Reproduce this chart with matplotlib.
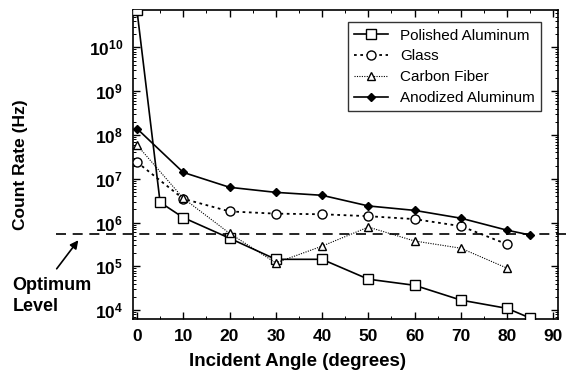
import matplotlib
matplotlib.use("Agg")
import matplotlib.pyplot as plt
from matplotlib.ticker import LogLocator, MultipleLocator, FixedLocator

plt.rcParams['font.family'] = ['Liberation Sans', 'DejaVu Sans']

angle_pa = [0, 5, 10, 20, 30, 40, 50, 60, 70, 80, 85]
polished_al = [7e10, 2.9e6, 1.3e6, 4.4e5, 1.45e5, 1.45e5, 5.1e4, 3.7e4, 1.7e4, 1.1e4, 6.6e3]

angle_gl = [0, 10, 20, 30, 40, 50, 60, 70, 80]
glass = [2.4e7, 3.5e6, 1.8e6, 1.6e6, 1.55e6, 1.4e6, 1.2e6, 8.3e5, 3.2e5]

angle_cf = [0, 10, 20, 30, 40, 50, 60, 70, 80]
carbon_fiber = [5.9e7, 3.6e6, 5.7e5, 1.2e5, 2.9e5, 7.9e5, 3.8e5, 2.6e5, 9.1e4]

angle_an = [0, 10, 20, 30, 40, 50, 60, 70, 80, 85]
anodized_al = [1.4e8, 1.4e7, 6.4e6, 4.9e6, 4.2e6, 2.4e6, 1.9e6, 1.26e6, 6.7e5, 5.2e5]

optimum_level = 5.4e5

fig = plt.figure(figsize=(5.7, 3.77), dpi=100)
ax = fig.add_axes([0.233, 0.154, 0.746, 0.819])

ax.plot(angle_pa, polished_al, '-', color='k', lw=1.2, marker='s', ms=6.5,
        mfc='white', mec='k', mew=1.0, label='Polished Aluminum', zorder=3)
ax.plot(angle_gl, glass, linestyle=(0, (1.5, 2)), color='k', lw=1.3, marker='o', ms=6.5,
        mfc='white', mec='k', mew=1.0, label='Glass', zorder=3)
ax.plot(angle_cf, carbon_fiber, linestyle=(0, (1, 1.2)), color='k', lw=0.8, marker='^', ms=5.5,
        mfc='white', mec='k', mew=1.0, label='Carbon Fiber', zorder=3)
ax.plot(angle_an, anodized_al, '-', color='k', lw=1.2, marker='D', ms=4.5,
        mfc='k', mec='k', label='Anodized Aluminum', zorder=3)

# optimum level line runs past the axes on both sides
ax.plot([-17.5, 93], [optimum_level, optimum_level], '--', color='k', lw=1.2,
        dashes=(6, 4), clip_on=False, zorder=2)

ax.set_yscale('log')
ax.set_xlim(-0.9, 91)
ax.set_ylim(10**3.8, 10**10.85)

ax.xaxis.set_major_locator(MultipleLocator(10))
ax.xaxis.set_minor_locator(MultipleLocator(5))
ax.yaxis.set_major_locator(FixedLocator([1e4, 1e5, 1e6, 1e7, 1e8, 1e9, 1e10]))
ax.yaxis.set_minor_locator(LogLocator(base=10, subs=range(2, 10), numticks=20))

ax.tick_params(which='both', direction='in', top=True, right=True)
ax.tick_params(which='major', length=5, width=1)
ax.tick_params(which='minor', length=2.5, width=0.7)
ax.tick_params(axis='both', labelsize=12.5)
ax.tick_params(axis='x', pad=7)
ax.tick_params(axis='y', pad=7)
for lab in ax.get_xticklabels() + ax.get_yticklabels():
    lab.set_fontweight('bold')
for s in ax.spines.values():
    s.set_linewidth(1.2)

ax.set_xlabel('Incident Angle (degrees)', fontsize=13.5, fontweight='bold')
ax.xaxis.set_label_coords(0.388, -0.11)
ax.set_ylabel('Count Rate (Hz)', fontsize=12.5, fontweight='bold')
ax.yaxis.set_label_coords(-0.247, 0.5)

leg = ax.legend(loc='upper right', bbox_to_anchor=(0.978, 0.985), fontsize=11,
                frameon=True, fancybox=False, edgecolor='k', handlelength=2.2,
                borderpad=0.4, labelspacing=0.45, handletextpad=0.8)
leg.get_frame().set_linewidth(1.0)

fig.text(0.022, 0.215, 'Optimum\nLevel', fontsize=13, fontweight='bold',
         ha='left', va='center', linespacing=1.3)
ax.annotate('', xy=(80 / 570, 1 - 238 / 377), xycoords='figure fraction',
            xytext=(55 / 570, 1 - 271 / 377), textcoords='figure fraction',
            arrowprops=dict(arrowstyle='-|>', color='k', lw=1.2, mutation_scale=12))

fig.savefig('out.png', dpi=100)
